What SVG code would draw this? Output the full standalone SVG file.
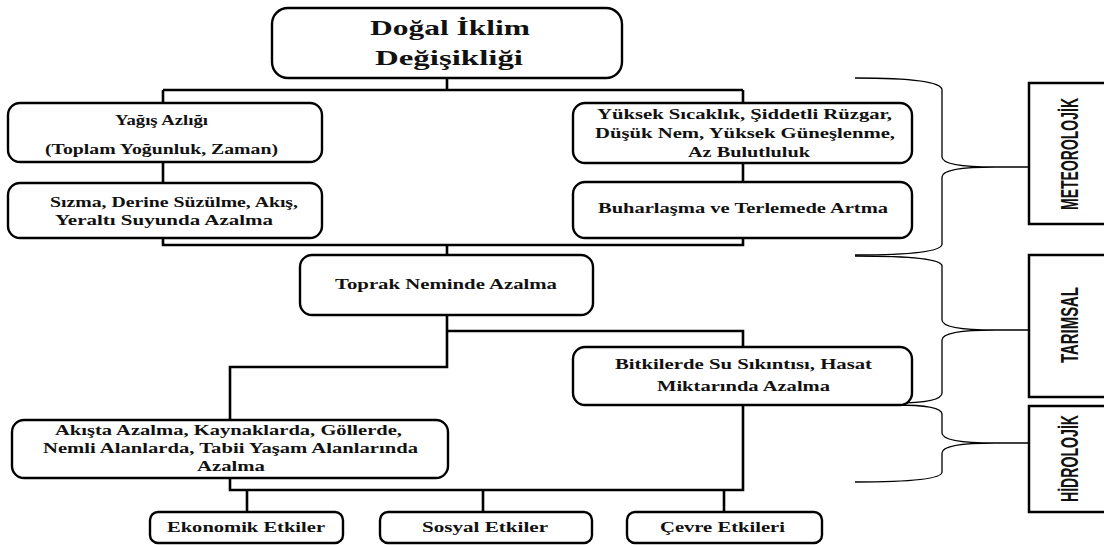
<svg xmlns="http://www.w3.org/2000/svg" width="1104" height="545" viewBox="0 0 1104 545">
<style>
.box{fill:#fff;stroke:#000;stroke-width:2.4}
.sq{fill:#fff;stroke:#000;stroke-width:2.5}
.t{font-family:"Liberation Serif","Times New Roman",serif;font-weight:bold;font-size:14.5px;fill:#111;text-anchor:middle}
.h{font-size:22px}
.v{font-family:"Liberation Sans",Arial,sans-serif;font-weight:bold;font-size:23px;fill:#111;text-anchor:middle}
.ln{fill:none;stroke:#000;stroke-width:2.6}
.br{fill:none;stroke:#000;stroke-width:1.3}
</style>
<rect width="1104" height="545" fill="#fff"/>
<g id="connectors">
<path class="ln" d="M447,78V90M163,90H743M163,90V103M743,90V103"/>
<path class="ln" d="M163,162V183M743,163V182"/>
<path class="ln" d="M163,238V245H743V238M447,245V255"/>
<path class="ln" d="M447,315V367H230V420M447,331H743V347"/>
<path class="ln" d="M230,478V490H743V405M247,490V512M483,490V512M724,490V512"/>
</g>
<g id="brackets">
<path class="br" d="M855,78Q942,78 942,90V157Q942,167 995,167H1029M995,167Q942,167 942,177V244Q942,255 855,255"/>
<path class="br" d="M855,256Q942,256 942,266V320Q942,330 995,330H1029M995,330Q942,330 942,340V393Q942,403 895,403"/>
<path class="br" d="M895,405Q942,405 942,414V433Q942,443 995,443H1029M995,443Q942,443 942,453V472Q942,482 855,482"/>
</g>
<g id="n-title">
<rect class="box" x="272" y="8" width="350" height="70" rx="16"/>
<text class="t h" x="450" y="35" textLength="160" lengthAdjust="spacingAndGlyphs">Doğal İklim</text>
<text class="t h" x="449" y="65" textLength="148" lengthAdjust="spacingAndGlyphs">Değişikliği</text>
</g>
<g id="n-yagis">
<rect class="box" x="8" y="103" width="314" height="59" rx="12"/>
<text class="t" x="161.5" y="125" textLength="93" lengthAdjust="spacingAndGlyphs">Yağış Azlığı</text>
<text class="t" x="161.5" y="154" textLength="233" lengthAdjust="spacingAndGlyphs">(Toplam Yoğunluk, Zaman)</text>
</g>
<g id="n-sizma">
<rect class="box" x="8" y="183" width="314" height="55" rx="12"/>
<text class="t" x="174" y="207" textLength="248" lengthAdjust="spacingAndGlyphs">Sızma, Derine Süzülme, Akış,</text>
<text class="t" x="164" y="225" textLength="218" lengthAdjust="spacingAndGlyphs">Yeraltı Suyunda Azalma</text>
</g>
<g id="n-yuksek">
<rect class="box" x="573" y="103" width="339" height="60" rx="12"/>
<text class="t" x="744.5" y="119" textLength="295" lengthAdjust="spacingAndGlyphs">Yüksek Sıcaklık, Şiddetli Rüzgar,</text>
<text class="t" x="745" y="138" textLength="300" lengthAdjust="spacingAndGlyphs">Düşük Nem, Yüksek Güneşlenme,</text>
<text class="t" x="749" y="157" textLength="122" lengthAdjust="spacingAndGlyphs">Az Bulutluluk</text>
</g>
<g id="n-buhar">
<rect class="box" x="573" y="182" width="339" height="56" rx="12"/>
<text class="t" x="743" y="213" textLength="290" lengthAdjust="spacingAndGlyphs">Buharlaşma ve Terlemede Artma</text>
</g>
<g id="n-toprak">
<rect class="box" x="300" y="255" width="293" height="60" rx="12"/>
<text class="t" x="446" y="289" textLength="222" lengthAdjust="spacingAndGlyphs">Toprak Neminde Azalma</text>
</g>
<g id="n-bitki">
<rect class="box" x="573" y="347" width="339" height="58" rx="12"/>
<text class="t" x="743.5" y="369" textLength="257" lengthAdjust="spacingAndGlyphs">Bitkilerde Su Sıkıntısı, Hasat</text>
<text class="t" x="743.5" y="391" textLength="173" lengthAdjust="spacingAndGlyphs">Miktarında Azalma</text>
</g>
<g id="n-akis">
<rect class="box" x="12" y="420" width="436" height="58" rx="12"/>
<text class="t" x="228.5" y="435" textLength="347" lengthAdjust="spacingAndGlyphs">Akışta Azalma, Kaynaklarda, Göllerde,</text>
<text class="t" x="230.5" y="453" textLength="375" lengthAdjust="spacingAndGlyphs">Nemli Alanlarda, Tabii Yaşam Alanlarında</text>
<text class="t" x="231" y="471" textLength="68" lengthAdjust="spacingAndGlyphs">Azalma</text>
</g>
<g id="n-ekonomik">
<rect class="box" x="150" y="512" width="193" height="31" rx="8"/>
<text class="t" x="246" y="532" textLength="158" lengthAdjust="spacingAndGlyphs">Ekonomik Etkiler</text>
</g>
<g id="n-sosyal">
<rect class="box" x="380" y="512" width="212" height="31" rx="8"/>
<text class="t" x="485" y="532" textLength="126" lengthAdjust="spacingAndGlyphs">Sosyal Etkiler</text>
</g>
<g id="n-cevre">
<rect class="box" x="627" y="512" width="195" height="31" rx="8"/>
<text class="t" x="722.5" y="532" textLength="125" lengthAdjust="spacingAndGlyphs">Çevre Etkileri</text>
</g>
<g id="n-meteo">
<rect class="sq" x="1029" y="83" width="90" height="141"/>
<text class="v" transform="translate(1078,154) rotate(-90)" textLength="112" lengthAdjust="spacingAndGlyphs">METEOROLOJİK</text>
</g>
<g id="n-tarim">
<rect class="sq" x="1029" y="255" width="90" height="142"/>
<text class="v" transform="translate(1078,325) rotate(-90)" textLength="76" lengthAdjust="spacingAndGlyphs">TARIMSAL</text>
</g>
<g id="n-hidro">
<rect class="sq" x="1029" y="406" width="90" height="106"/>
<text class="v" transform="translate(1078,458.5) rotate(-90)" textLength="87" lengthAdjust="spacingAndGlyphs">HİDROLOJİK</text>
</g>
</svg>
